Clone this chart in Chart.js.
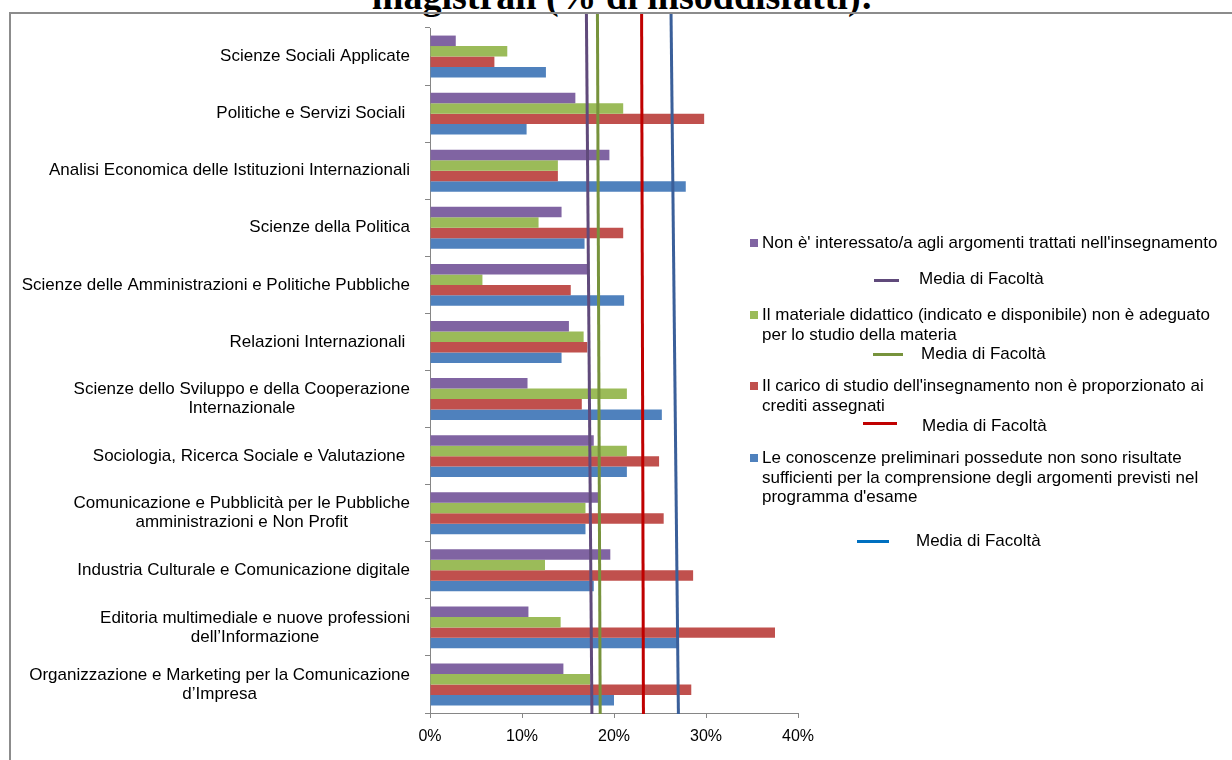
<!DOCTYPE html>
<html lang="it">
<head>
<meta charset="utf-8">
<title>Insoddisfatti per corso di laurea magistrale</title>
<script src="https://cdn.jsdelivr.net/npm/chart.js@4.4.1/dist/chart.umd.min.js"></script>
<style>
  html, body { margin: 0; padding: 0; background: #fff; overflow: hidden; }
  body { width: 1232px; height: 760px; position: relative; font-family: "Liberation Sans", Arial, sans-serif; }
  #titolo {
    position: absolute; left: 0; top: -23px; width: 1245px; text-align: center;
    font: bold 38px/38px "Liberation Serif", "Times New Roman", serif; color: #000; white-space: nowrap;
  }
  #cornice {
    position: absolute; left: 9px; top: 12px; width: 1240px; height: 760px;
    border: 2px solid #8c8c8c; box-sizing: border-box;
  }
  #grafico { position: absolute; left: 0; top: 0; }
  .voce { position: absolute; font-size: 17px; line-height: 19.5px; color: #000; white-space: nowrap; }
  .quadrato { position: absolute; width: 8px; height: 8px; }
  .linea { position: absolute; height: 3px; }
</style>
</head>
<body>
<div id="titolo">magistrali (% di insoddisfatti):</div>
<div id="cornice"></div>
<canvas id="grafico" width="1232" height="760"></canvas>

<!-- legenda -->
<div class="quadrato" style="left:750px;top:239px;background:#8064A2"></div>
<div class="voce" style="left:762px;top:233px">Non è' interessato/a agli argomenti trattati nell'insegnamento</div>
<div class="linea" style="left:874px;top:279px;width:25px;background:#604A7B"></div>
<div class="voce" style="left:919px;top:269px">Media di Facoltà</div>

<div class="quadrato" style="left:750px;top:311px;background:#9BBB59"></div>
<div class="voce" style="left:762px;top:305px">Il materiale didattico (indicato e disponibile) non è adeguato<br>per lo studio della materia</div>
<div class="linea" style="left:873px;top:353px;width:30px;background:#77933C"></div>
<div class="voce" style="left:921px;top:344px">Media di Facoltà</div>

<div class="quadrato" style="left:750px;top:382px;background:#C0504D"></div>
<div class="voce" style="left:762px;top:376px">Il carico di studio dell'insegnamento non è proporzionato ai<br>crediti assegnati</div>
<div class="linea" style="left:863px;top:422px;width:34px;background:#C00000"></div>
<div class="voce" style="left:922px;top:416px">Media di Facoltà</div>

<div class="quadrato" style="left:750px;top:454px;background:#4F81BD"></div>
<div class="voce" style="left:762px;top:448px">Le conoscenze preliminari possedute non sono risultate<br>sufficienti per la comprensione degli argomenti previsti nel<br>programma d'esame</div>
<div class="linea" style="left:857px;top:540px;width:32px;background:#0070C0"></div>
<div class="voce" style="left:916px;top:531px">Media di Facoltà</div>

<script>
const categorie = [
  'Scienze Sociali Applicate',
  'Politiche e Servizi Sociali ',
  'Analisi Economica delle Istituzioni Internazionali',
  'Scienze della Politica',
  'Scienze delle Amministrazioni e Politiche Pubbliche',
  'Relazioni Internazionali ',
  ['Scienze dello Sviluppo e della Cooperazione', 'Internazionale'],
  'Sociologia, Ricerca Sociale e Valutazione ',
  ['Comunicazione e Pubblicità per le Pubbliche', 'amministrazioni e Non Profit'],
  'Industria Culturale e Comunicazione digitale',
  ['Editoria multimediale e nuove professioni', 'dell\u2019Informazione'],
  ['Organizzazione e Marketing per la Comunicazione', 'd\u2019Impresa']
];

// % di insoddisfatti per motivo
const nonInteressato = [2.8, 15.8, 19.5, 14.3, 17.2, 15.1, 10.6, 17.8, 18.3, 19.6, 10.7, 14.5];
const materiale      = [8.4, 21.0, 13.9, 11.8, 5.7, 16.7, 21.4, 21.4, 16.9, 12.5, 14.2, 17.4];
const carico         = [7.0, 29.8, 13.9, 21.0, 15.3, 17.1, 16.5, 24.9, 25.4, 28.6, 37.5, 28.4];
const conoscenze     = [12.6, 10.5, 27.8, 16.8, 21.1, 14.3, 25.2, 21.4, 16.9, 17.8, 27.0, 20.0];

// media di facoltà: linee tracciate a mano, leggermente inclinate (valore in alto / in basso)
const mediaAlto  = [17.0, 18.2, 23.0, 26.2];
const mediaBasso = [17.6, 18.5, 23.2, 27.0];
const coloriMedia = ['#604A7B', '#77933C', '#C00000', '#3A5F9A'];

const tickX = [0, 10, 20, 30, 40];

const FONT = '"Liberation Sans", Arial, sans-serif';

// etichette dell'asse y centrate riga per riga
const etichetteY = {
  id: 'etichetteY',
  afterDraw(chart) {
    const scale = chart.scales.y;
    const ctx = chart.ctx;
    ctx.save();
    ctx.font = '17px ' + FONT;
    ctx.fillStyle = '#000';
    ctx.textAlign = 'center';
    ctx.textBaseline = 'middle';
    categorie.forEach((lab, i) => {
      const righe = Array.isArray(lab) ? lab : [lab];
      const larghezza = Math.max(...righe.map(r => ctx.measureText(r).width));
      const cx = scale.right - 20 - larghezza / 2;
      const cy = scale.getPixelForValue(i);
      righe.forEach((r, k) => {
        ctx.fillText(r, cx, cy + (k - (righe.length - 1) / 2) * 19);
      });
    });
    ctx.restore();
  }
};

// linee della media, sopra le barre; partono dal bordo della cornice
const lineeMedia = {
  id: 'lineeMedia',
  afterDatasetsDraw(chart) {
    const x = chart.scales.x;
    const { top, bottom } = chart.chartArea;
    const ctx = chart.ctx;
    ctx.save();
    ctx.lineWidth = 3;
    mediaAlto.forEach((v, i) => {
      ctx.strokeStyle = coloriMedia[i];
      ctx.beginPath();
      ctx.moveTo(x.getPixelForValue(v), top - 14);
      ctx.lineTo(x.getPixelForValue(mediaBasso[i]), bottom + 1);
      ctx.stroke();
    });
    ctx.restore();
  }
};

function barre(label, data, colore) {
  return {
    label: label,
    data: data,
    backgroundColor: colore,
    barPercentage: 1,
    categoryPercentage: 0.735
  };
}

new Chart(document.getElementById('grafico'), {
  type: 'bar',
  data: {
    labels: categorie,
    datasets: [
      barre("Non è' interessato/a agli argomenti trattati nell'insegnamento", nonInteressato, '#8064A2'),
      barre('Il materiale didattico (indicato e disponibile) non è adeguato per lo studio della materia', materiale, '#9BBB59'),
      barre("Il carico di studio dell'insegnamento non è proporzionato ai crediti assegnati", carico, '#C0504D'),
      barre("Le conoscenze preliminari possedute non sono risultate sufficienti per la comprensione degli argomenti previsti nel programma d'esame", conoscenze, '#4F81BD')
    ]
  },
  options: {
    indexAxis: 'y',
    responsive: false,
    animation: false,
    layout: { padding: { top: 28, right: 434, left: 0, bottom: 0 } },
    plugins: {
      legend: { display: false },
      tooltip: { enabled: false }
    },
    scales: {
      x: {
        min: 0,
        max: 40,
        afterBuildTicks: s => { s.ticks = tickX.map(v => ({ value: v })); },
        afterFit: s => { s.height = 47; },
        grid: { drawOnChartArea: false, drawTicks: true, tickLength: 5, color: '#868686' },
        border: { color: '#868686', width: 1 },
        ticks: {
          padding: 9,
          color: '#000',
          font: { size: 16, family: FONT },
          callback: v => v + '%'
        }
      },
      y: {
        afterFit: s => { s.width = 430; },
        grid: { drawOnChartArea: false, drawTicks: true, tickLength: 5, color: '#868686' },
        border: { color: '#868686', width: 1 },
        ticks: { display: false }
      }
    }
  },
  plugins: [etichetteY, lineeMedia]
});
</script>
</body>
</html>
